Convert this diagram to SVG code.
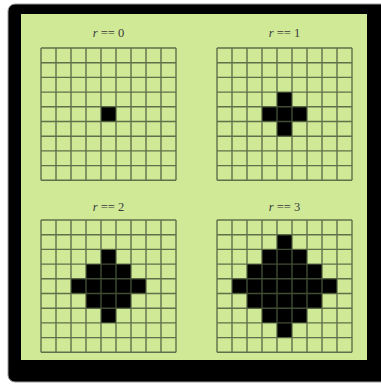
<svg xmlns="http://www.w3.org/2000/svg" xmlns:xlink="http://www.w3.org/1999/xlink" width="381" height="385" viewBox="0 0 381 385">
  <style>
    .lbl { font-family: "Liberation Serif", "DejaVu Serif", serif; font-size: 12.5px; fill: #3a3a3a; text-anchor: middle; }
    .grid { fill: none; stroke: #4c5a3c; stroke-width: 1.4; stroke-opacity: 0.85; }
    .on { fill: #000; }
  </style>
  <defs>
    <path id="gridlines" class="grid" d="M0,0V132.3M15,0V132.3M30,0V132.3M45,0V132.3M60,0V132.3M75,0V132.3M90,0V132.3M105,0V132.3M120,0V132.3M135,0V132.3M0,0H135M0,14.7H135M0,29.4H135M0,44.1H135M0,58.8H135M0,73.5H135M0,88.2H135M0,102.9H135M0,117.6H135M0,132.3H135"/>
  </defs>
  <rect x="8" y="4" width="385" height="378" rx="7" fill="#000" stroke="#9a9a9a" stroke-width="1"/>
  <rect x="21" y="14" width="346" height="346" fill="#cfe997"/>

  <g id="r0" transform="translate(41,48)">
    <text class="lbl" x="67.5" y="-11"><tspan font-style="italic">r</tspan> == 0</text>
    <rect class="on" x="60" y="58.8" width="15" height="14.7"/>
    <use xlink:href="#gridlines"/>
  </g>

  <g id="r1" transform="translate(217,48)">
    <text class="lbl" x="67.5" y="-11"><tspan font-style="italic">r</tspan> == 1</text>
    <path class="on" d="M60,44.1H75V58.8H90V73.5H75V88.2H60V73.5H45V58.8H60Z"/>
    <use xlink:href="#gridlines"/>
  </g>

  <g id="r2" transform="translate(41,220)">
    <text class="lbl" x="67.5" y="-9"><tspan font-style="italic">r</tspan> == 2</text>
    <path class="on" d="M60,29.4H75V44.1H90V58.8H105V73.5H90V88.2H75V102.9H60V88.2H45V73.5H30V58.8H45V44.1H60Z"/>
    <use xlink:href="#gridlines"/>
  </g>

  <g id="r3" transform="translate(217,220)">
    <text class="lbl" x="67.5" y="-9"><tspan font-style="italic">r</tspan> == 3</text>
    <path class="on" d="M60,14.7H75V29.4H90V44.1H105V58.8H120V73.5H105V88.2H90V102.9H75V117.6H60V102.9H45V88.2H30V73.5H15V58.8H30V44.1H45V29.4H60Z"/>
    <use xlink:href="#gridlines"/>
  </g>

  <g id="connectors"/>
</svg>
